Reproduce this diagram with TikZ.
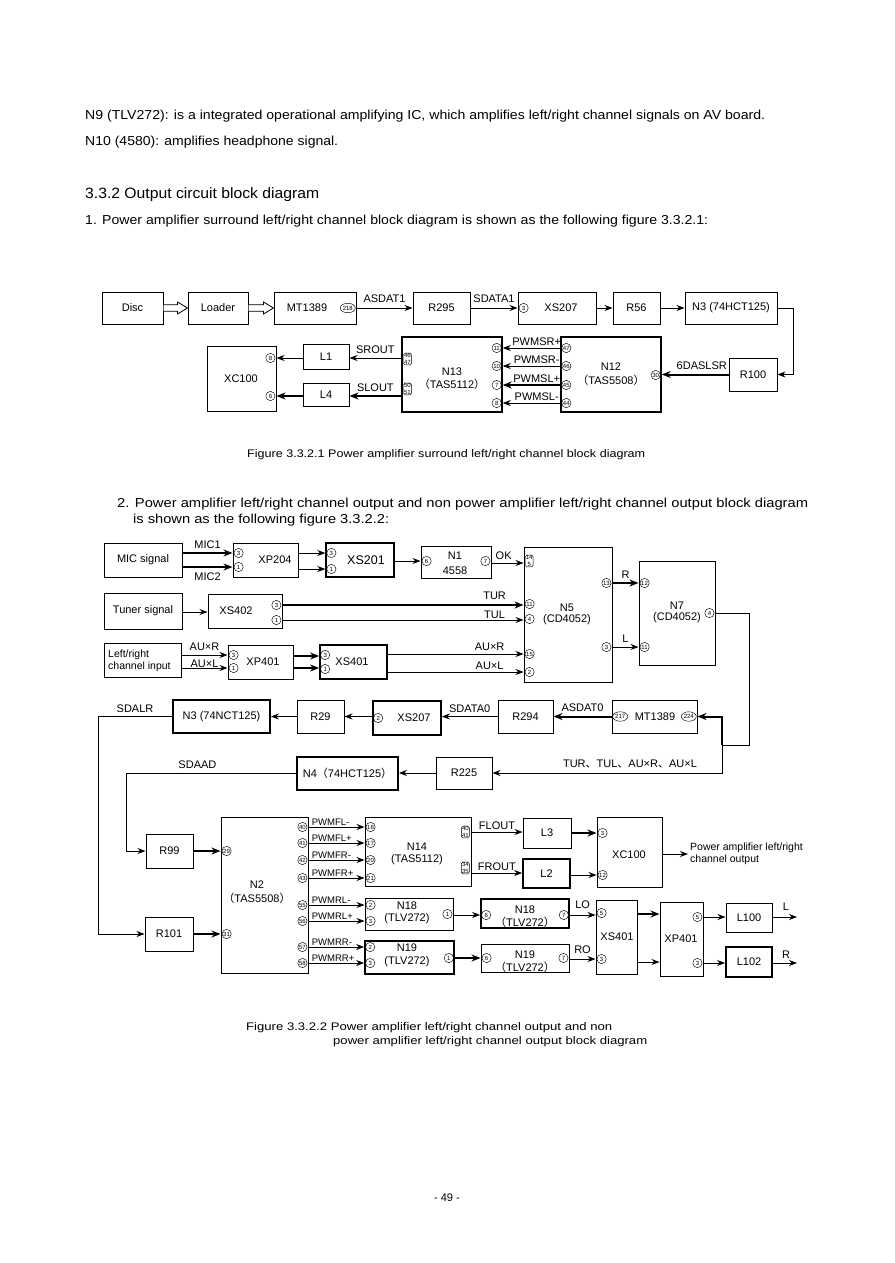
\documentclass[tikz,border=0pt]{standalone}
\usepackage{fontspec}
\usepackage{graphicx}
\setmainfont{Liberation Sans}
\newfontfamily\cjk{Noto Sans CJK SC}
\usetikzlibrary{arrows.meta,calc,shapes.geometric}
\newcommand\lp{{\cjk （}}
\newcommand\rp{{\cjk ）}}
\newcommand\blk[7][]{\node[box,#1,minimum width={#4-#2},minimum height={#5-#3}] (#6) at ({(#2+#4)/2},{(#3+#5)/2}) {#7};}
\newcommand\pinl[3]{\node[pinc,anchor=west,xshift=1.2pt] at (#1.west |- 0,#2) {#3};}
\newcommand\pinr[3]{\node[pinc,anchor=east,xshift=-1.2pt] at (#1.east |- 0,#2) {#3};}
\tikzset{
  box/.style={draw,line width=1pt,inner sep=0pt,align=center,font=\fontsize{11}{13}\selectfont},
  thk/.style={line width=1.8pt},
  tx/.style={inner sep=0pt,align=center,font=\fontsize{11}{13}\selectfont},
  lbl/.style={inner sep=0pt,font=\fontsize{11}{13}\selectfont},
  sm/.style={inner sep=0pt,font=\fontsize{9.5}{11}\selectfont},
  pinc/.style={draw,circle,line width=0.45pt,inner sep=0pt,minimum size=9.3pt,font=\fontsize{6}{6.5}\selectfont},
  epin/.style={draw,ellipse,line width=0.45pt,inner sep=0pt,minimum width=15pt,minimum height=9.5pt,font=\fontsize{6}{6.5}\selectfont},
  pbox/.style={draw,rounded corners=1.5pt,line width=0.45pt,inner sep=0.6pt,align=center,font=\fontsize{6}{6.3}\selectfont},
  ln/.style={line width=0.8pt},
  ar/.style={line width=0.8pt,-{Stealth[length=8pt,width=6pt]}},
  tar/.style={line width=2pt,-{Stealth[length=9pt,width=7pt]}},
  bodytxt/.style={anchor=base west,inner sep=0pt,font=\fontsize{13}{15}\selectfont},
  captxt/.style={anchor=base west,inner sep=0pt,font=\fontsize{11}{13}\selectfont},
}
\newcommand\hollow[2]{\path let \p1=(#1.east), \p2=(#2.west) in
  [draw,fill=white,line width=0.8pt] (\x1,\y1+3.3pt) -- (\x2-10pt,\y1+3.3pt) -- (\x2-10pt,\y1+6pt)
  -- (\x2,\y1) -- (\x2-10pt,\y1-6pt) -- (\x2-10pt,\y1-3.3pt) -- (\x1,\y1-3.3pt);}
\begin{document}
\begin{tikzpicture}[x=1pt,y=-1pt]
\useasboundingbox (0,0) rectangle (894,1263);
\fill[white] (0,0) rectangle (894,1263);
% ---------- text ----------
\node[bodytxt] (t1) at (85,119) {\resizebox{680pt}{\height}{N9 (TLV272): is a integrated operational amplifying IC, which amplifies left/right channel signals on AV board.}};
\node[bodytxt] (t2) at (85,145) {\resizebox{253pt}{\height}{N10 (4580): amplifies headphone signal.}};
\node[bodytxt,font=\fontsize{15}{17}\selectfont] (t3) at (85,198) {\resizebox{234pt}{\height}{3.3.2 Output circuit block diagram}};
\node[bodytxt] (t4) at (85,224) {\resizebox{623pt}{\height}{1. Power amplifier surround left/right channel block diagram is shown as the following figure 3.3.2.1:}};
\node[bodytxt] (t5) at (117,507) {\resizebox{691pt}{\height}{2. Power amplifier left/right channel output and non power amplifier left/right channel output block diagram}};
\node[bodytxt] (t6) at (133,523) {\resizebox{256pt}{\height}{is shown as the following figure 3.3.2.2:}};
% ---------- figure 1 ----------
\blk{102}{292}{163}{324}{disc}{Disc}
\blk{188}{292}{248}{324}{loader}{Loader}
\blk{274}{292}{356}{324}{mtA}{}
\node[tx] (mtAt) at (307,308) {MT1389};
\node[epin,anchor=east,xshift=-1pt] (p218) at (mtA.east) {218};
\blk{413}{292}{470}{324}{rA}{R295}
\blk{518}{292}{596}{324}{xsA}{}
\node[tx] (xsAt) at (561,308) {XS207};
\pinl{xsA}{308}{3}
\blk{613}{292}{660}{324}{r56}{R56}
\blk{685}{292}{777}{324}{n3A}{N3 (74HCT125)}
\blk{729}{358}{777}{391}{r100}{R100}
\blk[line width=1.5pt]{561}{337}{661}{412}{n12}{}
\node[tx] (n12a) at (611,367) {N12};
\node[tx] (n12b) at (611,380) {\lp TAS5508\rp};
\blk[line width=1.5pt]{402}{337}{502}{412}{n13}{}
\node[tx] (n13a) at (452,372) {N13};
\node[tx] (n13b) at (452,384) {\lp TAS5112\rp};
\blk{303}{344}{349}{369}{l1}{L1}
\blk{303}{383}{349}{406}{l4}{L4}
\blk{207}{346}{276}{411}{xcA}{}
\node[tx] (xcAt) at (241,379) {XC100};
\pinr{xcA}{358}{8}
\pinr{xcA}{396}{6}
\hollow{disc}{loader}
\hollow{loader}{mtA}
\draw[ar] (mtA.east) -- (rA.west) node[lbl,midway,above=5pt] {ASDAT1};
\draw[ar] (rA.east) -- (xsA.west) node[lbl,midway,above=5pt] {SDATA1};
\draw[ar] (xsA.east) -- (r56.west);
\draw[ar] (r56.east) -- (n3A.west);
\draw[ar] (n3A.east) -- ++(16,0) |- (r100.east);
\draw[tar] (r100.west) -- (n12.east) node[lbl,pos=0.4,above=4pt] {6DASLSR};
\foreach \y/\t/\s in {348/PWMSR+/ar,366/PWMSR-/ar,385/PWMSL+/tar,403/PWMSL-/ar}{
  \draw[\s] (n12.west |- 0,\y) -- (n13.east |- 0,\y) node[lbl,pos=0.41,above=1.5pt] {\t};}
\foreach \y/\n in {348/47,366/46,385/45,403/44}{\pinl{n12}{\y}{\n}}
\pinr{n12}{375}{30}
\foreach \y/\n in {348/11,366/10,385/7,403/8}{\pinr{n13}{\y}{\n}}
\node[pbox,anchor=west,xshift=2pt] (pb1) at (n13.west |- 0,359) {46\\47};
\node[pbox,anchor=west,xshift=2pt] (pb2) at (n13.west |- 0,389) {50\\51};
\draw[ar] (n13.west |- 0,358) -- (l1.east |- 0,358) node[lbl,midway,above=3.5pt] {SROUT};
\draw[tar] (n13.west |- 0,396) -- (l4.east |- 0,396) node[lbl,midway,above=3.5pt] {SLOUT};
\draw[ar] (l1.west |- 0,358) -- (xcA.east |- 0,358);
\draw[tar] (l4.west |- 0,396) -- (xcA.east |- 0,396);
\node[captxt] (c1) at (247,457) {\resizebox{398pt}{\height}{Figure 3.3.2.1 Power amplifier surround left/right channel block diagram}};
% ---------- figure 2 ----------
\blk{104}{543}{182}{577}{mic}{MIC signal}
\blk{233}{543}{298}{577}{xp204}{}
\node[tx] (xp204t) at (275,560) {XP204};
\pinl{xp204}{553}{3}
\pinl{xp204}{567}{1}
\blk[line width=1.4pt]{326}{543}{394}{577}{xs201}{}
\node[tx,font=\fontsize{12.5}{14}\selectfont] (xs201t) at (366,560) {XS201};
\pinl{xs201}{553}{3}
\pinl{xs201}{569}{1}
\blk{421}{546}{491}{578}{n1}{}
\node[tx] (n1a) at (455,556) {N1};
\node[tx] (n1b) at (455,571) {4558};
\pinl{n1}{561}{6}
\pinr{n1}{561}{7}
\blk{524}{547}{612}{682}{n5}{}
\node[tx] (n5a) at (567,608) {N5};
\node[tx] (n5b) at (567,620) {(CD4052)};
\node[pbox,anchor=west,xshift=1.5pt] (pb3) at (n5.west |- 0,561) {14\\5};
\foreach \y/\n in {604/11,619/4,654/15,672/2}{\pinl{n5}{\y}{\n}}
\pinr{n5}{583}{13}
\pinr{n5}{647}{3}
\blk{639}{561}{715}{665}{n7}{}
\node[tx] (n7a) at (677,606) {N7};
\node[tx] (n7b) at (677,618) {(CD4052)};
\pinl{n7}{583}{12}
\pinl{n7}{647}{11}
\pinr{n7}{613}{4}
\blk{104}{593}{182}{629}{tuner}{Tuner signal}
\blk{208}{594}{282}{628}{xs402}{}
\node[tx] (xs402t) at (236,611) {XS402};
\pinr{xs402}{605}{3}
\pinr{xs402}{620}{1}
\blk{104}{643}{181}{677}{lri}{}
\node[tx,align=left,anchor=west,font=\fontsize{10.5}{11.5}\selectfont] (lrit) at (108,661) {Left/right\\channel input};
\blk{228}{645}{293}{679}{xp401}{}
\node[tx] (xp401t) at (263,662) {XP401};
\pinl{xp401}{655}{3}
\pinl{xp401}{668}{1}
\blk[thk]{320}{645}{387}{679}{xs401}{}
\node[tx] (xs401t) at (352,662) {XS401};
\pinl{xs401}{655}{3}
\pinl{xs401}{669}{1}
\draw[tar] (mic.east |- 0,553) -- (xp204.west |- 0,553) node[lbl,midway,above=3pt] {MIC1};
\draw[tar] (mic.east |- 0,567) -- (xp204.west |- 0,567) node[lbl,midway,below=5pt] {MIC2};
\draw[ar] (xp204.east |- 0,553) -- (xs201.west |- 0,553);
\draw[ar] (xp204.east |- 0,569) -- (xs201.west |- 0,569);
\draw[ar] (xs201.east |- 0,561) -- (n1.west |- 0,561);
\draw[ar] (n1.east |- 0,563) -- (n5.west |- 0,563) node[lbl,pos=0.38,above=3pt] {OK};
\draw[ar] (tuner.east |- 0,612) -- (xs402.west |- 0,612);
\draw[tar] (xs402.east |- 0,605) -- (n5.west |- 0,605) node[lbl,pos=0.88,above=4pt] {TUR};
\draw[ar] (xs402.east |- 0,620) -- (n5.west |- 0,620) node[lbl,pos=0.88,above=1.5pt] {TUL};
\draw[ar] (lri.east |- 0,655) -- (xp401.west |- 0,655) node[lbl,midway,above=4pt] {AU×R};
\draw[ar] (lri.east |- 0,668) -- (xp401.west |- 0,668) node[lbl,midway,above=0.5pt] {AU×L};
\draw[tar] (xp401.east |- 0,656) -- (xs401.west |- 0,656);
\draw[tar] (xp401.east |- 0,668) -- (xs401.west |- 0,668);
\draw[ar] (xs401.east |- 0,654) -- (n5.west |- 0,654) node[lbl,pos=0.75,above=3.5pt] {AU×R};
\draw[ar] (xs401.east |- 0,672) -- (n5.west |- 0,672) node[lbl,pos=0.75,above=2.5pt] {AU×L};
\draw[tar] (n5.east |- 0,583) -- (n7.west |- 0,583) node[lbl,midway,above=4pt] {R};
\draw[ar] (n5.east |- 0,647) -- (n7.west |- 0,647) node[lbl,midway,above=4pt] {L};
% row 4
\blk[thk]{173}{700}{270}{733}{n3B}{N3 (74NCT125)}
\blk{297}{700}{344}{733}{r29}{R29}
\blk[thk]{373}{701}{441}{735}{xsB}{}
\node[tx] (xsBt) at (414,718) {XS207};
\pinl{xsB}{718}{2}
\blk{498}{700}{553}{733}{r294}{R294}
\blk{612}{700}{697}{733}{mt2}{}
\node[tx] (mt2t) at (655,716.5) {MT1389};
\node[epin,anchor=west,xshift=1pt] (p217) at (mt2.west) {217};
\node[epin,anchor=east,xshift=-1pt] (p224) at (mt2.east) {224};
% row 5
\blk[thk]{297}{757}{398}{790}{n4}{N4\lp 74HCT125\rp}
\blk{436}{757}{492}{789}{r225}{R225}
% bottom left
\blk{146}{834}{193}{868}{r99}{R99}
\blk{145}{917}{193}{951}{r101}{R101}
\coordinate (jn) at (722,745);
\draw[ln] (n7.east |- 0,613) -| (749,745) -- (jn);
\draw[tar] (jn) |- (mt2.east);
\draw[ar] (jn) |- (r225.east);
\node[lbl] (tul) at (630,764) {TUR{\cjk 、}TUL{\cjk 、}AU×R{\cjk 、}AU×L};
\draw[tar] (mt2.west) -- (r294.east) node[lbl,midway,above=4pt] {ASDAT0};
\draw[ar] (r294.west) -- (xsB.east |- r294.west) node[lbl,midway,above=4pt] {SDATA0};
\draw[ar] (xsB.west |- r29.east) -- (r29.east);
\draw[ar] (r29.west) -- (n3B.east);
\draw[ar] (n3B.west) -- (98,716.5) node[lbl,midway,above=4pt] {SDALR} |- (r101.west);
\draw[ar] (r225.west) -- (n4.east |- r225.west);
\draw[ar] (n4.west |- r225.west) -- (126,773) node[lbl,pos=0.58,above=4pt] {SDAAD} |- (r99.west);
% bottom
\blk{221}{817}{308}{973}{n2}{}
\node[tx] (n2a) at (257,885) {N2};
\node[tx] (n2b) at (257,898) {\lp TAS5508\rp};
\draw[tar] (r99.east) -- (n2.west |- r99.east);
\draw[tar] (r101.east) -- (n2.west |- r101.east);
\pinl{n2}{851}{29}
\pinl{n2}{934}{31}
\blk{365}{817}{471}{886}{n14}{}
\node[tx] (n14a) at (417,847) {N14};
\node[tx] (n14b) at (417,860) {(TAS5112)};
\node[pbox,anchor=east,xshift=-2pt] (pb4) at (n14.east |- 0,832) {40\\41};
\node[pbox,anchor=east,xshift=-2pt] (pb5) at (n14.east |- 0,868) {34\\35};
\blk{365}{898}{453}{930}{n18a}{}
\node[tx] (n18aa) at (407,906) {N18};
\node[tx] (n18ab) at (407,919) {(TLV272)};
\blk[thk]{365}{941}{454}{974}{n19a}{}
\node[tx] (n19aa) at (407,948) {N19};
\node[tx] (n19ab) at (407,962) {(TLV272)};
\foreach \y/\t/\p in {827/PWMFL-/18,843/PWMFL+/17,860/PWMFR-/20,878/PWMFR+/21}{
  \draw[ar] (n2.east |- 0,\y) -- (n14.west |- 0,\y) node[sm,pos=0,anchor=south west,xshift=3pt,yshift=1pt] {\t};
  \pinl{n14}{\y}{\p}}
\foreach \y/\t/\p in {905/PWMRL-/2,921/PWMRL+/3}{
  \draw[ar] (n2.east |- 0,\y) -- (n18a.west |- 0,\y) node[sm,pos=0,anchor=south west,xshift=3pt,yshift=1pt] {\t};
  \pinl{n18a}{\y}{\p}}
\foreach \y/\t/\p in {947/PWMRR-/2,963/PWMRR+/3}{
  \draw[ar] (n2.east |- 0,\y) -- (n19a.west |- 0,\y) node[sm,pos=0,anchor=south west,xshift=3pt,yshift=1pt] {\t};
  \pinl{n19a}{\y}{\p}}
\foreach \y/\n in {827/40,843/41,860/42,878/43,905/55,921/56,947/57,963/58}{\pinr{n2}{\y}{\n}}
\pinr{n18a}{914}{1}
\pinr{n19a}{958}{1}
\blk{523}{818}{571}{848}{l3}{L3}
\blk[thk]{523}{859}{570}{888}{l2}{L2}
\blk{597}{817}{662}{887}{xc2}{}
\node[tx] (xc2t) at (629,855) {XC100};
\pinl{xc2}{833}{3}
\pinl{xc2}{875}{12}
\draw[ar] (n14.east |- 0,832) -- (l3.west |- 0,832) node[lbl,midway,above=2.5pt] {FLOUT};
\draw[ar] (n14.east |- 0,873) -- (l2.west |- 0,873) node[lbl,midway,above=2.5pt] {FROUT};
\draw[tar] (l3.east) -- (xc2.west |- l3.east);
\draw[ar] (l2.east |- 0,875) -- (xc2.west |- 0,875);
\coordinate (outA) at (688,854);
\draw[ar] (xc2.east |- outA) -- (outA);
\node[tx,align=left,anchor=west,font=\fontsize{10.5}{12}\selectfont] (outt) at (690,854) {Power amplifier left/right\\channel output};
\blk[thk]{481}{899}{569}{928}{n18b}{}
\node[tx] (n18ba) at (525,910) {N18};
\node[tx] (n18bb) at (525,922) {\lp TLV272\rp};
\blk{481}{944}{569}{972}{n19b}{}
\node[tx] (n19ba) at (525,955) {N19};
\node[tx] (n19bb) at (525,967) {\lp TLV272\rp};
\pinl{n18b}{915}{6}
\pinr{n18b}{915}{7}
\pinl{n19b}{958}{6}
\pinr{n19b}{958}{7}
\draw[ar] (n18a.east |- 0,915) -- (n18b.west |- 0,915);
\draw[tar] (n19a.east |- 0,958) -- (n19b.west |- 0,958);
\blk{596}{900}{637}{974}{xs401b}{}
\node[tx] (xs401bt) at (617,937) {XS401};
\pinl{xs401b}{913}{5}
\pinl{xs401b}{959}{3}
\draw[ar] (n18b.east |- 0,915) -- (xs401b.west |- 0,915) node[lbl,midway,above=6pt] {LO};
\draw[ar] (n19b.east |- 0,959) -- (xs401b.west |- 0,959) node[lbl,midway,above=5pt] {RO};
\blk{660}{902}{703}{976}{xp401b}{}
\node[tx] (xp401bt) at (681,939) {XP401};
\pinr{xp401b}{917}{5}
\pinr{xp401b}{963}{3}
\draw[tar] (xs401b.east |- 0,914) -- (xp401b.west |- 0,914);
\draw[ar] (xs401b.east |- 0,962) -- (xp401b.west |- 0,962);
\blk{726}{903}{772}{932}{l100}{L100}
\blk[thk]{726}{947}{772}{977}{l102}{L102}
\draw[ar] (xp401b.east |- 0,917) -- (l100.west |- 0,917);
\draw[ar] (xp401b.east |- 0,963) -- (l102.west |- 0,963);
\coordinate (oL) at (797,917);
\coordinate (oR) at (797,963);
\draw[ar] (l100.east |- oL) -- (oL) node[lbl,pos=0.55,above=6pt] {L};
\draw[ar] (l102.east |- oR) -- (oR) node[lbl,pos=0.55,above=4pt] {R};
\node[captxt] (c2a) at (246,1030) {\resizebox{366pt}{\height}{Figure 3.3.2.2 Power amplifier left/right channel output and non}};
\node[captxt] (c2b) at (333,1044) {\resizebox{314pt}{\height}{power amplifier left/right channel output block diagram}};
\node[captxt,anchor=base] (pg) at (447,1201) {- 49 -};
\end{tikzpicture}
\end{document}
